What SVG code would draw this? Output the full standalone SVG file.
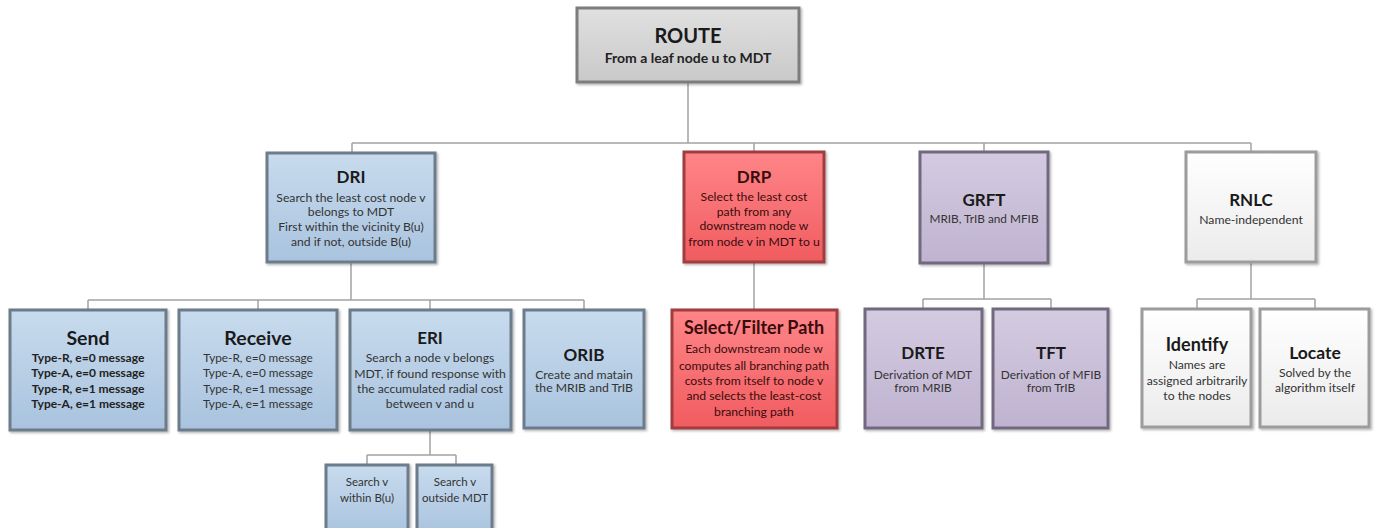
<svg xmlns="http://www.w3.org/2000/svg" width="1375" height="528" viewBox="0 0 1375 528">
  <defs>
    <linearGradient id="gGrey" x1="0" y1="0" x2="0" y2="1">
      <stop offset="0" stop-color="#e0e0e0"/>
      <stop offset="1" stop-color="#c9c9c9"/>
    </linearGradient>
    <linearGradient id="gBlue" x1="0" y1="0" x2="0" y2="1">
      <stop offset="0" stop-color="#c8dbee"/>
      <stop offset="1" stop-color="#a9c3de"/>
    </linearGradient>
    <linearGradient id="gRed" x1="0" y1="0" x2="0" y2="1">
      <stop offset="0" stop-color="#ff8588"/>
      <stop offset="1" stop-color="#f05c60"/>
    </linearGradient>
    <linearGradient id="gPurple" x1="0" y1="0" x2="0" y2="1">
      <stop offset="0" stop-color="#d4cbe1"/>
      <stop offset="1" stop-color="#bfb3d0"/>
    </linearGradient>
    <linearGradient id="gWhite" x1="0" y1="0" x2="0" y2="1">
      <stop offset="0" stop-color="#ffffff"/>
      <stop offset="1" stop-color="#ebebeb"/>
    </linearGradient>
    <filter id="shadow" x="-10%" y="-10%" width="125%" height="125%">
      <feDropShadow dx="1.5" dy="1.5" stdDeviation="1.2" flood-color="#000" flood-opacity="0.3"/>
    </filter>
  </defs>
  <style>
    text { font-family: Lato, "Open Sans", "Liberation Sans", sans-serif; text-anchor: middle; }
    .t { font-weight: bold; font-size: 17px; fill: #1a1a1a; }
    .s { font-size: 12.2px; fill: #333; }
    .sb { font-size: 12px; font-weight: bold; fill: #222; }
    .box { stroke-width: 3; filter: url(#shadow); }
    .grey { fill: url(#gGrey); stroke: #7d7d7d; }
    .blue { fill: url(#gBlue); stroke: #6c7b8b; }
    .red { fill: url(#gRed); stroke: #a03c3f; }
    .purple { fill: url(#gPurple); stroke: #716b7e; }
    .white { fill: url(#gWhite); stroke: #9c9c9c; }
    .warm text { fill: #3a0c0c; }
    .conn { fill: none; stroke: #a3a3a3; stroke-width: 1.5; }
  </style>

  <!-- connectors -->
  <g id="connectors" class="conn">
    <path d="M688 82 V143 M352 143 H1251 M352 143 V153 M754 143 V152 M984 143 V152 M1251 143 V152"/>
    <path d="M351 262 V300 M88 300 H584 M88 300 V310 M258 300 V310 M430 300 V310 M584 300 V310"/>
    <path d="M754 262 V310"/>
    <path d="M984 263 V299 M923 299 H1051 M923 299 V309 M1051 299 V309"/>
    <path d="M1251 262 V299 M1197 299 H1315 M1197 299 V309 M1315 299 V309"/>
    <path d="M430 430 V455 M367 455 H456 M367 455 V465 M456 455 V465"/>
  </g>

  <g id="route">
    <rect class="box grey" x="577" y="8" width="222" height="74"/>
    <text class="t" x="688" y="43" style="font-size:20px">ROUTE</text>
    <text class="sb" x="688" y="63" style="font-size:14px">From a leaf node u to MDT</text>
  </g>

  <g id="dri">
    <rect class="box blue" x="267" y="153" width="168" height="109"/>
    <text class="t" x="351" y="183">DRI</text>
    <text class="s" x="351" y="202">Search the least cost node v</text>
    <text class="s" x="351" y="216">belongs to MDT</text>
    <text class="s" x="351" y="231">First within the vicinity B(u)</text>
    <text class="s" x="351" y="246">and if not, outside B(u)</text>
  </g>

  <g id="drp" class="warm">
    <rect class="box red" x="684" y="152" width="140" height="110"/>
    <text class="t" x="754" y="183">DRP</text>
    <text class="s" x="754" y="201">Select the least cost</text>
    <text class="s" x="754" y="216">path from any</text>
    <text class="s" x="754" y="230">downstream node w</text>
    <text class="s" x="754" y="246">from node v in MDT to u</text>
  </g>

  <g id="grft">
    <rect class="box purple" x="920" y="152" width="128" height="111"/>
    <text class="t" x="984" y="206">GRFT</text>
    <text class="s" x="984" y="223" style="font-size:11.8px">MRIB, TrIB and MFIB</text>
  </g>

  <g id="rnlc">
    <rect class="box white" x="1186" y="152" width="130" height="110"/>
    <text class="t" x="1251" y="206">RNLC</text>
    <text class="s" x="1251" y="224">Name-independent</text>
  </g>

  <g id="send">
    <rect class="box blue" x="10" y="310" width="156" height="120"/>
    <text class="t" x="88" y="345" style="font-size:19.5px">Send</text>
    <text class="sb" x="88" y="362">Type-R, e=0 message</text>
    <text class="sb" x="88" y="377">Type-A, e=0 message</text>
    <text class="sb" x="88" y="393">Type-R, e=1 message</text>
    <text class="sb" x="88" y="408">Type-A, e=1 message</text>
  </g>

  <g id="receive">
    <rect class="box blue" x="179" y="310" width="158" height="120"/>
    <text class="t" x="258" y="345" style="font-size:19.5px">Receive</text>
    <text class="s" x="258" y="362" style="font-size:11.8px">Type-R, e=0 message</text>
    <text class="s" x="258" y="377" style="font-size:11.8px">Type-A, e=0 message</text>
    <text class="s" x="258" y="393" style="font-size:11.8px">Type-R, e=1 message</text>
    <text class="s" x="258" y="408" style="font-size:11.8px">Type-A, e=1 message</text>
  </g>

  <g id="eri">
    <rect class="box blue" x="350" y="310" width="161" height="120"/>
    <text class="t" x="430" y="344">ERI</text>
    <text class="s" x="430" y="362">Search a node v belongs</text>
    <text class="s" x="430" y="378">MDT, if found response with</text>
    <text class="s" x="430" y="393">the accumulated radial cost</text>
    <text class="s" x="430" y="408">between v and u</text>
  </g>

  <g id="orib">
    <rect class="box blue" x="524" y="310" width="120" height="118"/>
    <text class="t" x="584" y="361">ORIB</text>
    <text class="s" x="584" y="379">Create and matain</text>
    <text class="s" x="584" y="392">the MRIB and TrIB</text>
  </g>

  <g id="select-filter" class="warm">
    <rect class="box red" x="672" y="310" width="165" height="118"/>
    <text class="t" x="754" y="334" style="font-size:18px">Select/Filter Path</text>
    <text class="s" x="754" y="353">Each downstream node w</text>
    <text class="s" x="754" y="370">computes all branching path</text>
    <text class="s" x="754" y="385">costs from itself to node v</text>
    <text class="s" x="754" y="400">and selects the least-cost</text>
    <text class="s" x="754" y="416">branching path</text>
  </g>

  <g id="drte">
    <rect class="box purple" x="865" y="309" width="117" height="119"/>
    <text class="t" x="923" y="359">DRTE</text>
    <text class="s" x="923" y="379" style="font-size:11.9px">Derivation of MDT</text>
    <text class="s" x="923" y="392" style="font-size:11.9px">from MRIB</text>
  </g>

  <g id="tft">
    <rect class="box purple" x="993" y="309" width="115" height="119"/>
    <text class="t" x="1051" y="359">TFT</text>
    <text class="s" x="1051" y="379" style="font-size:11.9px">Derivation of MFIB</text>
    <text class="s" x="1051" y="392" style="font-size:11.9px">from TrIB</text>
  </g>

  <g id="identify">
    <rect class="box white" x="1142" y="309" width="109" height="118"/>
    <text class="t" x="1197" y="351" style="font-size:18px">Identify</text>
    <text class="s" x="1197" y="369">Names are</text>
    <text class="s" x="1197" y="385">assigned arbitrarily</text>
    <text class="s" x="1197" y="400">to the nodes</text>
  </g>

  <g id="locate">
    <rect class="box white" x="1260" y="309" width="109" height="118"/>
    <text class="t" x="1315" y="359" style="font-size:17.5px">Locate</text>
    <text class="s" x="1315" y="377">Solved by the</text>
    <text class="s" x="1315" y="392">algorithm itself</text>
  </g>

  <g id="search-within">
    <rect class="box blue" x="326" y="465" width="82" height="70"/>
    <text class="s" x="367" y="486" style="font-size:11.5px">Search v</text>
    <text class="s" x="367" y="502" style="font-size:11.5px">within B(u)</text>
  </g>

  <g id="search-outside">
    <rect class="box blue" x="417" y="465" width="75" height="70"/>
    <text class="s" x="455" y="486" style="font-size:11.5px">Search v</text>
    <text class="s" x="455" y="502" style="font-size:11.5px">outside MDT</text>
  </g>
</svg>
